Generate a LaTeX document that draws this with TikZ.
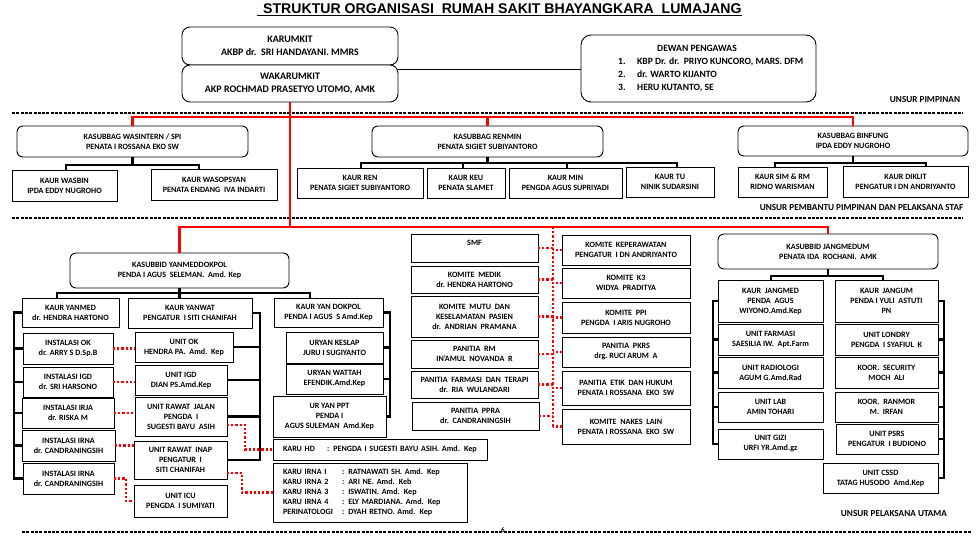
\documentclass[tikz,border=0pt]{standalone}
\usepackage{fontspec}
\setmainfont{Carlito}
\newfontfamily\titlefont{Liberation Sans}
\newcommand\fs{\fontsize{8.1}{10}\selectfont\bfseries}
\newcommand\fsb{\fontsize{10}{12.5}\selectfont\bfseries}
\newcommand\fsd{\fontsize{9.6}{13}\selectfont\bfseries}
\begin{document}
\begin{tikzpicture}[x=1pt,y=-1pt,
 box/.style={draw=black,line width=0.9pt,fill=white,align=center,inner sep=0pt,outer sep=0pt,font=\fs},
 rbox/.style={box,rounded corners=6pt},
 conn/.style={line width=2.8pt},
 redl/.style={line width=2.6pt,red},
 redd/.style={line width=2.2pt,red,dash pattern=on 2.2pt off 2pt},
 sep/.style={line width=2pt,dash pattern=on 3pt off 1.3pt},
 lbl/.style={font=\fontsize{9.2}{10}\selectfont\bfseries,inner sep=0pt}]
\useasboundingbox (0,0) rectangle (979,536);
\fill[white] (0,0) rectangle (979,536);

% title
\node[anchor=base west,inner sep=0pt,font=\titlefont\fontsize{14.1}{16}\selectfont\bfseries] (title) at (263,13) {STRUKTUR ORGANISASI\ \ RUMAH SAKIT BHAYANGKARA\ \ LUMAJANG};
\draw[line width=1.2pt] ([xshift=-6pt,yshift=-2.5pt]title.base west) -- ([yshift=-2.5pt]title.base east);

% separators
\draw[sep] (12,113) -- (963,113);
\draw[sep] (12,218) -- (963,218);
\draw[sep] (22,532) -- (972,532);

% top
\node[rbox,rounded corners=8pt,font=\fsb,minimum width=216,minimum height=38] (karumkit) at (290,46) {KARUMKIT\\AKBP dr.\ \ SRI HANDAYANI. MMRS};
\node[rbox,rounded corners=8pt,font=\fsb,minimum width=216,minimum height=37] (waka) at (290,83.5) {WAKARUMKIT\\AKP ROCHMAD PRASETYO UTOMO, AMK};
\node[rbox,rounded corners=10pt,minimum width=235,minimum height=67] (dewan) at (698.5,68.5) {};
\node[font=\fsd,inner sep=0pt] (dewant) at (697,48) {DEWAN PENGAWAS};
\node[font=\fsd,inner sep=0pt,anchor=west,align=left] (dewanl) at (618,75) {\makebox[19pt][l]{1.}KBP Dr. dr.\ \ PRIYO KUNCORO, MARS. DFM\\\makebox[19pt][l]{2.}dr. WARTO KIJANTO\\\makebox[19pt][l]{3.}HERU KUTANTO, SE};
\draw[line width=1pt] ([yshift=14.5pt]waka.east) coordinate (wk) -- (wk -| dewan.west);
\node[lbl] (u1) at (925,100) {UNSUR PIMPINAN};

% second row
\node[rbox,minimum width=231,minimum height=31] (wasin) at (132.5,141.5) {KASUBBAG WASINTERN / SPI\\PENATA I ROSSANA EKO SW};
\node[box,minimum width=105,minimum height=31] (wasbin) at (64.5,185.5) {KAUR WASBIN\\IPDA EDDY NUGROHO};
\node[box,minimum width=126,minimum height=31] (wasops) at (214,184.5) {KAUR WASOPSYAN\\PENATA ENDANG\ \ IVA INDARTI};
\node[rbox,minimum width=231,minimum height=31] (renmin) at (487.5,141.5) {KASUBBAG RENMIN\\PENATA SIGIET SUBIYANTORO};
\node[box,minimum width=126,minimum height=30] (kren) at (360,183) {KAUR REN\\PENATA SIGIET SUBIYANTORO};
\node[box,minimum width=78,minimum height=30] (kkeu) at (466,183) {KAUR KEU\\PENATA SLAMET};
\node[box,minimum width=113,minimum height=30] (kmin) at (565.5,183) {KAUR MIN\\PENGDA AGUS SUPRIYADI};
\node[box,minimum width=88,minimum height=30] (ktu) at (670,182) {KAUR TU\\NINIK SUDARSINI};
\node[rbox,minimum width=230,minimum height=30] (binfung) at (853,141) {KASUBBAG BINFUNG\\IPDA EDDY NUGROHO};
\node[box,minimum width=89,minimum height=30] (ksim) at (782.5,182) {KAUR SIM \& RM\\RIDNO WARISMAN};
\node[box,minimum width=125,minimum height=31] (kdiklit) at (905.5,181.5) {KAUR DIKLIT\\PENGATUR I DN ANDRIYANTO};
\node[lbl] (u2) at (861.5,208) {UNSUR PEMBANTU PIMPINAN DAN PELAKSANA STAF};

% bus bars second row
\coordinate (wa1) at (66,165); \coordinate (wa2) at (199,165);
\draw[conn] (wasin.south) -- (wasin.south |- wa1);
\draw[conn] (wasbin.north -| wa1) -- (wa1) -- (wa2) -- (wasops.north -| wa2);
\coordinate (r1) at (361,163); \coordinate (r2) at (463,163); \coordinate (r3) at (567,163); \coordinate (r4) at (677,163);
\draw[conn] (renmin.south) -- (renmin.south |- r1);
\draw[conn] (kren.north -| r1) -- (r1) -- (r4) -- (ktu.north -| r4);
\draw[conn] (r2) -- (kkeu.north -| r2);
\draw[conn] (r3) -- (kmin.north -| r3);
\coordinate (b1) at (775,163); \coordinate (b2) at (926,163);
\draw[conn] (binfung.south) -- (binfung.south |- b1);
\draw[conn] (ksim.north -| b1) -- (b1) -- (b2) -- (kdiklit.north -| b2);

% YANMEDDOKPOL
\node[rbox,minimum width=219,minimum height=35] (yanmed) at (179.5,270.5) {KASUBBID YANMEDDOKPOL\\PENDA I AGUS\ \ SELEMAN.\ \ Amd. Kep};
\node[box,minimum width=97,minimum height=29] (kyanmed) at (70.5,312.5) {KAUR YANMED\\dr. HENDRA HARTONO};
\node[box,minimum width=124,minimum height=30] (kyanwat) at (190,313) {KAUR YANWAT\\PENGATUR\ \ I SITI CHANIFAH};
\node[box,minimum width=109,minimum height=29] (kdokpol) at (328.5,312.5) {KAUR YAN DOKPOL\\PENDA I AGUS\ \ S Amd.Kep};
\node[box,minimum width=90,minimum height=31] (instok) at (68,348.5) {INSTALASI OK\\dr. ARRY S D.Sp.B};
\node[box,minimum width=90,minimum height=30] (instigd) at (68,382) {INSTALASI IGD\\dr. SRI HARSONO};
\node[box,minimum width=92,minimum height=30] (instirja) at (68,413) {INSTALASI IRJA\\dr. RISKA M};
\node[box,minimum width=93,minimum height=31] (instirna1) at (68.5,445.5) {INSTALASI IRNA\\dr. CANDRANINGSIH};
\node[box,minimum width=91,minimum height=31] (instirna2) at (68.5,478.5) {INSTALASI IRNA\\dr. CANDRANINGSIH};
\node[box,minimum width=98,minimum height=30] (unitok) at (184,347) {UNIT OK\\HENDRA PA.\ \ Amd.\ \ Kep};
\node[box,minimum width=92,minimum height=30] (unitigd) at (181,380) {UNIT IGD\\DIAN PS.Amd.Kep};
\node[box,minimum width=92,minimum height=39] (unitrj) at (181,416.5) {UNIT RAWAT\ \ JALAN\\PENGDA\ \ I\\SUGESTI BAYU\ \ ASIH};
\node[box,minimum width=93,minimum height=38] (unitri) at (180.5,460) {UNIT RAWAT\ \ INAP\\PENGATUR\ \ I\\SITI CHANIFAH};
\node[box,minimum width=93,minimum height=32] (uniticu) at (180.5,501) {UNIT ICU\\PENGDA\ \ I SUMIYATI};
\node[box,minimum width=97,minimum height=31] (uryank) at (334.5,347.5) {URYAN KESLAP\\JURU I SUGIYANTO};
\node[box,minimum width=97,minimum height=30] (uryanw) at (334.5,379) {URYAN WATTAH\\EFENDIK.Amd.Kep};
\node[box,minimum width=113,minimum height=41] (uryppt) at (329.5,416.5) {UR YAN PPT\\PENDA I\\AGUS SULEMAN\ \ Amd.Kep};
\node[box,text width=194pt,minimum height=21,align=left,anchor=west,inner xsep=10pt] (karuhd) at (273,449.5) {\makebox[44pt][l]{KARU HD}: PENGDA I SUGESTI BAYU ASIH. Amd. Kep};
\node[box,text width=174pt,minimum height=59,align=left,anchor=west,inner xsep=10pt] (karuirna) at (273,492.5) {\makebox[59pt][l]{KARU IRNA I}: RATNAWATI SH. Amd. Kep\\\makebox[59pt][l]{KARU IRNA 2}: ARI NE. Amd. Keb\\\makebox[59pt][l]{KARU IRNA 3}: ISWATIN. Amd. Kep\\\makebox[59pt][l]{KARU IRNA 4}: ELY MARDIANA. Amd. Kep\\\makebox[59pt][l]{PERINATOLOGI}: DYAH RETNO. Amd. Kep};

% komite
\node[box,minimum width=127,minimum height=28] (smf) at (474.5,248) {SMF\\\mbox{}};
\node[box,minimum width=127,minimum height=27] (kmedik) at (474.5,279.5) {KOMITE\ \ MEDIK\\dr. HENDRA HARTONO};
\node[box,minimum width=127,minimum height=41] (kmutu) at (474.5,316.5) {KOMITE\ \ MUTU\ \ DAN\\KESELAMATAN\ \ PASIEN\\dr.\ \ ANDRIAN\ \ PRAMANA};
\node[box,minimum width=127,minimum height=28] (prm) at (474.5,354) {PANITIA\ \ RM\\IN'AMUL\ \ NOVANDA\ \ R};
\node[box,minimum width=127,minimum height=27] (pfarm) at (474.5,384.5) {PANITIA\ \ FARMASI\ \ DAN\ \ TERAPI\\dr.\ \ RIA\ \ WULANDARI};
\node[box,minimum width=127,minimum height=28] (pppra) at (475.5,416) {PANITIA\ \ PPRA\\dr.\ \ CANDRANINGSIH};
\node[box,minimum width=128,minimum height=30] (kkep) at (626,250) {KOMITE\ \ KEPERAWATAN\\PENGATUR\ \ I DN ANDRIYANTO};
\node[box,minimum width=128,minimum height=30] (kk3) at (626,283) {KOMITE\ \ K3\\WIDYA\ \ PRADITYA};
\node[box,minimum width=128,minimum height=31] (kppi) at (626,317.5) {KOMITE\ \ PPI\\PENGDA\ \ I ARIS NUGROHO};
\node[box,minimum width=128,minimum height=30] (ppkrs) at (626,352) {PANITIA\ \ PKRS\\drg.\ RUCI ARUM\ \ A};
\node[box,minimum width=128,minimum height=34] (petik) at (626,388) {PANITIA\ \ ETIK\ \ DAN HUKUM\\PENATA I ROSSANA\ \ EKO\ \ SW};
\node[box,minimum width=128,minimum height=35] (knakes) at (626,426.5) {KOMITE\ \ NAKES\ \ LAIN\\PENATA I ROSSANA\ \ EKO\ \ SW};

% JANGMEDUM
\node[rbox,minimum width=220,minimum height=35] (jangmed) at (828,251.5) {KASUBBID JANGMEDUM\\PENATA IDA\ \ ROCHANI.\ \ AMK};
\node[box,minimum width=105,minimum height=42] (kjangmed) at (770.5,301) {KAUR\ \ JANGMED\\PENDA\ \ AGUS\\WIYONO.Amd.Kep};
\node[box,minimum width=103,minimum height=42] (kjangum) at (886.5,301) {KAUR\ \ JANGUM\\PENDA I YULI\ \ ASTUTI\\PN};
\node[box,minimum width=105,minimum height=31] (ufarm) at (770.5,339.5) {UNIT FARMASI\\SAESILIA IW.\ \ Apt.Farm};
\node[box,minimum width=105,minimum height=31] (urad) at (770.5,372.5) {UNIT RADIOLOGI\\AGUM G.Amd.Rad};
\node[box,minimum width=105,minimum height=30] (ulab) at (770.5,407) {UNIT LAB\\AMIN TOHARI};
\node[box,minimum width=105,minimum height=30] (ugizi) at (770.5,444) {UNIT GIZI\\URFI YR.Amd.gz};
\node[box,minimum width=103,minimum height=31] (ulondry) at (886.5,339.5) {UNIT LONDRY\\PENGDA\ \ I SYAFIUL\ \ K};
\node[box,minimum width=103,minimum height=31] (ksec) at (886.5,372.5) {KOOR.\ \ SECURITY\\MOCH\ \ ALI};
\node[box,minimum width=103,minimum height=30] (kranmor) at (886.5,407) {KOOR.\ \ RANMOR\\M.\ \ IRFAN};
\node[box,minimum width=102,minimum height=30] (upsrs) at (887,439) {UNIT PSRS\\PENGATUR\ \ I BUDIONO};
\node[box,minimum width=115,minimum height=30] (ucssd) at (880.5,478) {UNIT CSSD\\TATAG HUSODO\ \ Amd.Kep};
\node[lbl] (u3) at (894,514) {UNSUR PELAKSANA UTAMA};
\node[font=\fontsize{7}{8}\selectfont\bfseries,inner sep=0pt] (pg) at (503,530.5) {6};

% bus bars lower area
\coordinate (y1) at (57,293); \coordinate (y3) at (310,293);
\draw[conn] (yanmed.south) -- (kyanwat.north -| yanmed.south);
\draw[conn] (kyanmed.north -| y1) -- (y1) -- (y3) -- (kdokpol.north -| y3);
\coordinate (j1) at (771,276); \coordinate (j2) at (883,276);
\draw[conn] (jangmed.south) -- (jangmed.south |- j1);
\draw[conn] (kjangmed.north -| j1) -- (j1) -- (j2) -- (kjangum.north -| j2);

\coordinate (lb) at (14,0);
\draw[conn] (kyanmed.west) -- (kyanmed.west -| lb) -- (instirna2.west -| lb) -- (instirna2.west);
\foreach \n in {instok,instigd,instirja,instirna1} \draw[conn] (\n.west) -- (\n.west -| lb);
\coordinate (wb) at (260,0);
\draw[conn] (kyanwat.east) -- (kyanwat.east -| wb) -- (unitri.east -| wb) -- (unitri.east);
\foreach \n in {unitok,unitigd,unitrj} \draw[conn] (\n.east) -- (\n.east -| wb);
\coordinate (db) at (390,0);
\draw[conn] (kdokpol.east) -- (kdokpol.east -| db) -- (uryppt.east -| db) -- (uryppt.east);
\foreach \n in {uryank,uryanw} \draw[conn] (\n.east) -- (\n.east -| db);
\coordinate (jl) at (713,0);
\draw[conn] (kjangmed.west) -- (kjangmed.west -| jl) -- (ugizi.west -| jl) -- (ugizi.west);
\foreach \n in {ufarm,urad,ulab} \draw[conn] (\n.west) -- (\n.west -| jl);
\coordinate (jr) at (944,0);
\draw[conn] (kjangum.east) -- (kjangum.east -| jr) -- (ucssd.east -| jr) -- (ucssd.east);
\foreach \n in {ulondry,ksec,kranmor,upsrs} \draw[conn] (\n.east) -- (\n.east -| jr);

% red lines
\coordinate (ry1) at (0,117); \coordinate (ry2) at (0,227);
\draw[redl] (waka.south) -- (waka.south |- ry2);
\draw[redl] (wasin.north) -- (wasin.north |- ry1) -- (binfung.north |- ry1) -- (binfung.north);
\draw[redl] (renmin.north) -- (renmin.north |- ry1);
\draw[redl] (yanmed.north) -- (yanmed.north |- ry2) -- (jangmed.north |- ry2) -- (jangmed.north);

% red dotted
\coordinate (dx) at (553,0);
\draw[redd] (dx |- ry2) -- (dx |- knakes.west);
\foreach \n in {smf,kmedik,kmutu,prm,pfarm,pppra} \draw[redd] (\n.east) -- (\n.east -| dx);
\foreach \n in {kkep,kk3,kppi,ppkrs,petik,knakes} \draw[redd] (\n.west) -- (\n.west -| dx);
\draw[redd] (instok.east) -- (instok.east -| unitok.west);
\draw[redd] (instigd.east) -- (instigd.east -| unitigd.west);
\draw[redd] (instirja.east) -- (instirja.east -| unitrj.west);
\draw[redd] (instirna1.east) -- (instirna1.east -| unitri.west);
\draw[redd] (instirna2.east) -- ++(12,0) |- (uniticu.west);
\draw[redd] ([yshift=-8.5pt]unitrj.east) -- ++(18,0) |- (karuhd.west);
\draw[redd] ([yshift=-13pt]unitri.east) -- ++(15,0) |- (karuirna.west);
\end{tikzpicture}
\end{document}
